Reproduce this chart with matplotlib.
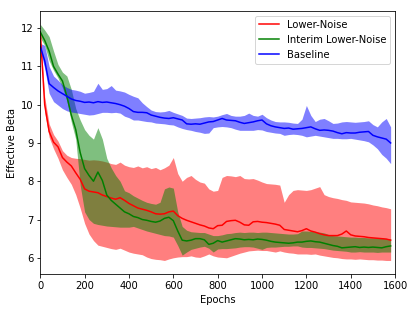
import numpy as np
import matplotlib
matplotlib.use("Agg")
import matplotlib.pyplot as plt

epochs = np.arange(0, 1600, 20)

lower_noise = [11.9, 10.0, 9.3, 9.02, 8.9, 8.62, 8.5, 8.4, 8.22, 8.05,
               7.8, 7.74, 7.72, 7.7, 7.64, 7.6, 7.56, 7.53, 7.57, 7.5,
               7.42, 7.36, 7.3, 7.27, 7.24, 7.2, 7.15, 7.14, 7.15, 7.2,
               7.22, 7.1, 7.03, 6.98, 6.94, 6.9, 6.86, 6.83, 6.78, 6.76,
               6.84, 6.85, 6.95, 6.97, 6.98, 6.93, 6.86, 6.85, 6.94, 6.95,
               6.93, 6.92, 6.9, 6.88, 6.85, 6.74, 6.72, 6.7, 6.68, 6.71,
               6.76, 6.7, 6.67, 6.63, 6.6, 6.58, 6.58, 6.58, 6.62, 6.7,
               6.6, 6.57, 6.56, 6.55, 6.53, 6.52, 6.51, 6.5, 6.49, 6.46]
lower_noise_hi = [11.95, 10.2, 9.5, 9.22, 9.05, 8.8, 8.68, 8.62, 8.6, 8.59,
                  8.57, 8.55, 8.56, 8.55, 8.53, 8.5, 8.46, 8.44, 8.5, 8.42,
                  8.38, 8.36, 8.4, 8.35, 8.38, 8.33, 8.36, 8.3, 8.35, 8.42,
                  8.62, 8.2, 8.0, 8.1, 8.15, 8.05, 7.98, 7.95, 7.8, 7.74,
                  7.76, 8.1, 8.15, 8.14, 8.12, 8.15, 8.07, 8.06, 8.07, 8.03,
                  7.98, 7.94, 7.93, 7.92, 7.9, 7.45, 7.65, 7.76, 7.78, 7.77,
                  7.76, 7.78, 7.82, 7.86, 7.65, 7.6, 7.57, 7.55, 7.52, 7.5,
                  7.46, 7.45, 7.44, 7.43, 7.41, 7.38, 7.36, 7.33, 7.31, 7.28]
lower_noise_lo = [11.85, 9.8, 9.15, 8.85, 8.6, 8.3, 8.1, 7.92, 7.65, 7.3,
                  6.9, 6.62, 6.45, 6.33, 6.3, 6.27, 6.24, 6.22, 6.25, 6.2,
                  6.15, 6.12, 6.1, 6.08, 6.02, 5.98, 5.96, 5.95, 5.93, 5.97,
                  6.0, 6.02, 6.03, 6.03, 6.05, 6.02, 6.01, 6.05, 6.1, 6.05,
                  6.02, 6.01, 6.0, 6.04, 6.08, 6.12, 6.15, 6.18, 6.19, 6.2,
                  6.19, 6.19, 6.17, 6.15, 6.18, 6.15, 6.13, 6.12, 6.1, 6.1,
                  6.1, 6.09, 6.1, 6.07, 6.05, 6.03, 6.01, 6.0, 5.98, 5.97,
                  5.97, 5.96, 5.97, 5.96, 5.95, 5.95, 5.94, 5.94, 5.93, 5.93]

interim = [11.9, 11.68, 11.4, 11.0, 10.8, 10.62, 10.22, 9.73, 9.35, 8.75,
           8.33, 8.15, 8.0, 8.24, 8.02, 7.64, 7.5, 7.4, 7.3, 7.2,
           7.15, 7.08, 7.05, 7.0, 6.98, 6.95, 6.93, 6.96, 7.03, 7.06,
           6.97, 6.7, 6.46, 6.44, 6.46, 6.5, 6.5, 6.47, 6.35, 6.38,
           6.45, 6.41, 6.44, 6.47, 6.5, 6.49, 6.47, 6.48, 6.47, 6.49,
           6.48, 6.46, 6.43, 6.41, 6.4, 6.39, 6.38, 6.39, 6.41, 6.41,
           6.43, 6.44, 6.42, 6.41, 6.38, 6.35, 6.32, 6.3, 6.26, 6.27,
           6.28, 6.29, 6.27, 6.28, 6.27, 6.28, 6.27, 6.26, 6.29, 6.31]
interim_hi = [12.1, 11.95, 11.78, 11.4, 11.05, 10.85, 10.75, 10.4, 9.9, 9.6,
              9.35, 9.2, 9.1, 9.4, 9.1, 8.6, 8.35, 8.15, 8.0, 7.75,
              7.7, 7.62, 7.56, 7.5, 7.45, 7.42, 7.4, 7.45, 7.8, 7.85,
              7.82, 7.2, 6.82, 6.72, 6.68, 6.67, 6.66, 6.66, 6.62, 6.58,
              6.58, 6.6, 6.63, 6.64, 6.66, 6.67, 6.66, 6.67, 6.67, 6.66,
              6.67, 6.67, 6.66, 6.65, 6.64, 6.63, 6.62, 6.62, 6.63, 6.7,
              6.7, 6.69, 6.68, 6.67, 6.65, 6.61, 6.58, 6.57, 6.56, 6.55,
              6.54, 6.54, 6.53, 6.53, 6.52, 6.52, 6.52, 6.51, 6.5, 6.5]
interim_lo = [11.75, 11.55, 11.15, 10.9, 10.7, 10.45, 10.1, 9.55, 9.1, 7.9,
              7.2, 7.0, 6.9, 6.87, 6.85, 6.83, 6.82, 6.81, 6.8, 6.8,
              6.8, 6.82, 6.78, 6.74, 6.7, 6.67, 6.64, 6.61, 6.58, 6.57,
              6.54, 6.32, 6.07, 6.15, 6.22, 6.25, 6.28, 6.3, 6.25, 6.15,
              6.23, 6.24, 6.24, 6.25, 6.26, 6.28, 6.29, 6.29, 6.28, 6.25,
              6.22, 6.27, 6.28, 6.28, 6.29, 6.3, 6.3, 6.31, 6.31, 6.28,
              6.27, 6.27, 6.26, 6.25, 6.24, 6.22, 6.2, 6.19, 6.18, 6.17,
              6.15, 6.15, 6.16, 6.15, 6.15, 6.15, 6.14, 6.15, 6.15, 6.15]

baseline = [11.52, 11.15, 10.55, 10.45, 10.36, 10.29, 10.22, 10.15, 10.11, 10.09,
            10.06, 10.07, 10.05, 10.08, 10.06, 10.07, 10.05, 10.03, 10.0, 9.96,
            9.9, 9.82, 9.8, 9.8, 9.79, 9.73, 9.7, 9.67, 9.65, 9.64,
            9.66, 9.63, 9.6, 9.5, 9.49, 9.5, 9.49, 9.52, 9.55, 9.56,
            9.6, 9.64, 9.6, 9.59, 9.58, 9.54, 9.51, 9.53, 9.55, 9.58,
            9.6, 9.5, 9.45, 9.42, 9.4, 9.38, 9.39, 9.36, 9.37, 9.38,
            9.4, 9.42, 9.37, 9.33, 9.34, 9.33, 9.31, 9.27, 9.24, 9.27,
            9.26, 9.26, 9.28, 9.29, 9.3, 9.2, 9.16, 9.13, 9.1, 9.0]
baseline_hi = [11.6, 11.55, 11.0, 10.75, 10.64, 10.52, 10.45, 10.4, 10.38, 10.35,
               10.3, 10.32, 10.35, 10.56, 10.4, 10.42, 10.5, 10.38, 10.36, 10.33,
               10.27, 10.22, 10.18, 10.05, 9.95, 9.86, 9.82, 9.81, 9.82, 9.85,
               9.8, 9.76, 9.72, 9.65, 9.64, 9.65, 9.66, 9.68, 9.69, 9.68,
               9.7, 9.74, 9.77, 9.72, 9.7, 9.7, 9.72, 9.78, 9.72, 9.7,
               9.75, 9.66, 9.6, 9.56, 9.55, 9.55, 9.54, 9.52, 9.51, 9.62,
               9.98, 9.72, 9.56, 9.62, 9.64, 9.58, 9.51, 9.52, 9.55, 9.56,
               9.55, 9.54, 9.55, 9.56, 9.58, 9.48, 9.42, 9.55, 9.64, 9.42]
baseline_lo = [11.42, 10.95, 10.3, 10.08, 9.99, 9.9, 9.84, 9.81, 9.79, 9.77,
               9.75, 9.73, 9.74, 9.77, 9.8, 9.8, 9.79, 9.8, 9.78, 9.7,
               9.66, 9.6, 9.6, 9.58, 9.56, 9.55, 9.52, 9.51, 9.5, 9.48,
               9.47, 9.42, 9.38, 9.35, 9.33, 9.3, 9.28, 9.25, 9.26, 9.4,
               9.42, 9.43, 9.42, 9.4, 9.36, 9.33, 9.33, 9.33, 9.33, 9.35,
               9.34, 9.3, 9.28, 9.26, 9.25, 9.2, 9.22, 9.23, 9.22, 9.2,
               9.16, 9.18, 9.2, 9.18, 9.16, 9.14, 9.12, 9.12, 9.11, 9.11,
               9.12, 9.1, 9.08, 9.06, 9.03, 8.95, 8.85, 8.7, 8.6, 8.46]

fig = plt.figure(figsize=(415 / 72, 312 / 72), dpi=72)
ax = fig.add_subplot(111)
fig.subplots_adjust(left=0.097, right=0.952, top=0.965, bottom=0.121)

# shaded bands first, lines on top
ax.fill_between(epochs, lower_noise_lo, lower_noise_hi, color='r', alpha=0.5, linewidth=0)
ax.fill_between(epochs, interim_lo, interim_hi, color='g', alpha=0.5, linewidth=0)
ax.fill_between(epochs, baseline_lo, baseline_hi, color='b', alpha=0.5, linewidth=0)

ax.plot(epochs, lower_noise, color='r', label='Lower-Noise')
ax.plot(epochs, interim, color='g', label='Interim Lower-Noise')
ax.plot(epochs, baseline, color='b', label='Baseline')

ax.set_xlim(0, 1600)
ax.set_ylim(5.57, 12.45)
ax.set_xlabel("Epochs")
ax.set_ylabel("Effective Beta")
ax.legend(loc="upper right")

plt.savefig("out.png", dpi=72)
plt.close('all')
